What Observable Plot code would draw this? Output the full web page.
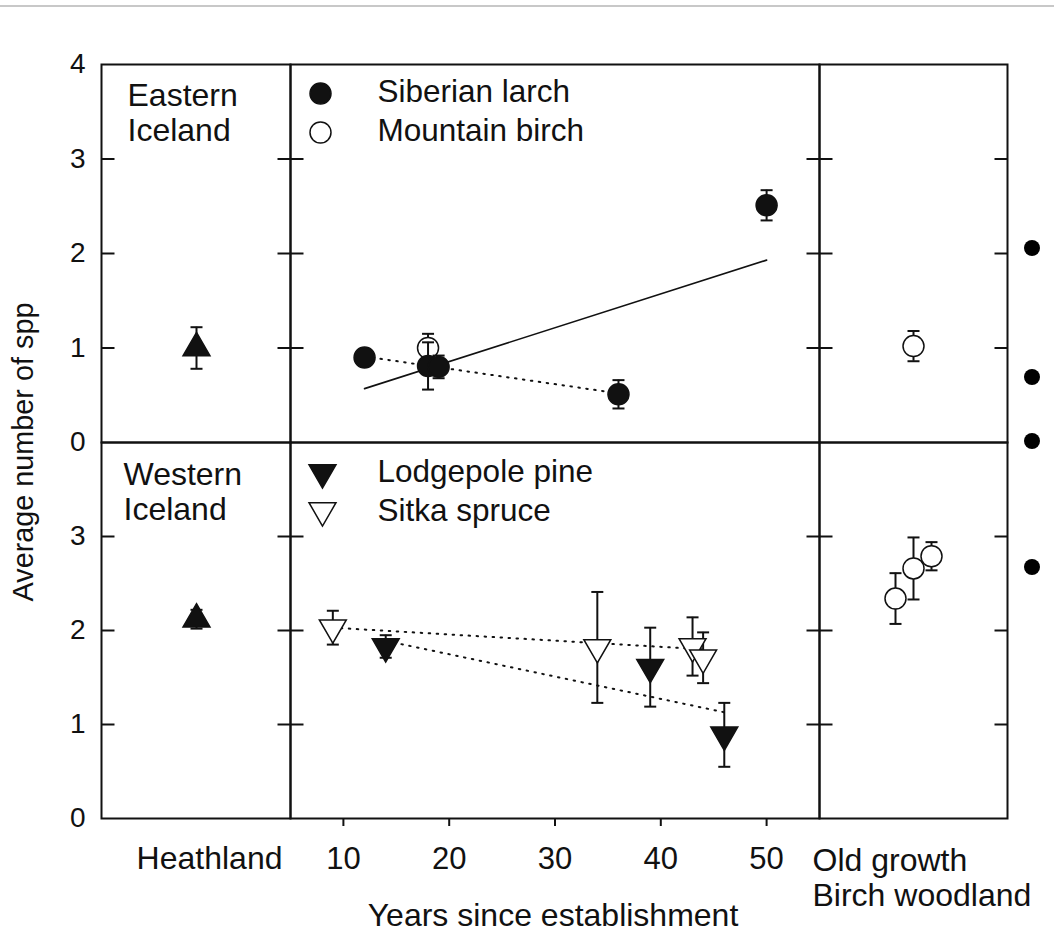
<!DOCTYPE html>
<html>
<head>
<meta charset="utf-8">
<script src="https://cdn.jsdelivr.net/npm/d3@7"></script>
<script src="https://cdn.jsdelivr.net/npm/@observablehq/plot@0.6"></script>
<style>
  html, body { margin: 0; padding: 0; background: #fff; }
  #wrap { position: relative; width: 1054px; height: 933px; overflow: hidden; background: #fff;
          font-family: "Liberation Sans", Arial, sans-serif; color: #111; }
  .panel { position: absolute; }
  .panel svg { overflow: visible; display: block; }
  .topline { position: absolute; left: 0; top: 5px; width: 1054px; height: 2px; background: #c8c8c8; }
  .bullet { position: absolute; width: 16px; height: 16px; border-radius: 50%; background: #000; }
  .ytitle { position: absolute; left: 23px; top: 452px; transform: translate(-50%, -50%) rotate(-90deg);
            white-space: nowrap; font-size: 28.8px; line-height: 1; }
  .xtitle { position: absolute; left: 553px; top: 899px; transform: translateX(-50%);
            white-space: nowrap; font-size: 32px; line-height: 1; }
</style>
</head>
<body>
<div id="wrap">
  <div class="topline"></div>
  <div class="ytitle">Average number of spp</div>
  <div class="xtitle">Years since establishment</div>
</div>
<script>
// ---------------- data ----------------
const regionLabels = ["Eastern\nIceland", "Western\nIceland"];
const topLegend = ["Siberian larch", "Mountain birch"];
const bottomLegend = ["Lodgepole pine", "Sitka spruce"];
const heathlandLabel = ["Heathland"];
const oldGrowthLabel = ["Old growth\nBirch woodland"];

const yLabelsTop = [0, 1, 2, 3, 4];
const yLabelsBottom = [0, 1, 2, 3];
const frameTicks = [1, 2, 3];
const yearTicks = [10, 20, 30, 40, 50];

// Heathland (reference)
const heathSites = ["Heathland"];
const heathEastMean = [1.00], heathEastSE = [0.22];
const heathWestMean = [2.12], heathWestSE = [0.10];

// Eastern Iceland plantations
const larchYears = [12, 18, 19, 36, 50];
const larchMean  = [0.90, 0.81, 0.80, 0.51, 2.51];
const larchSE    = [0.05, 0.25, 0.12, 0.15, 0.16];
const birchYears = [18];
const birchMean  = [1.00];
const birchSE    = [0.15];
const larchFitYears = [12, 50],  larchFitValues = [0.57, 1.93];     // solid regression line
const larchTrendYears = [12, 36], larchTrendValues = [0.91, 0.52];  // dotted line

// Western Iceland plantations
const pineYears   = [14, 39, 46];
const pineMean    = [1.83, 1.61, 0.89];
const pineSE      = [0.12, 0.42, 0.34];
const spruceYears = [9, 34, 43, 44];
const spruceMean  = [2.03, 1.82, 1.83, 1.71];
const spruceSE    = [0.18, 0.59, 0.31, 0.27];
const pineTrendYears = [14, 46],  pineTrendValues = [1.89, 1.13];
const spruceTrendYears = [9, 44], spruceTrendValues = [2.03, 1.80];

// Old growth birch woodland
const ogEastSites = ["OG"], ogEastMean = [1.02], ogEastSE = [0.16];
const ogWestSites = ["OG1", "OG2", "OG3"], ogWestMean = [2.34, 2.66, 2.79], ogWestSE = [0.27, 0.33, 0.15];

// ---------------- helpers ----------------
const INK = "#111";
const FONT = "'Liberation Sans', Arial, sans-serif";
const rows = (xs, ms, ses) => xs.map((x, i) => ({x, m: ms[i], lo: ms[i] - ses[i], hi: ms[i] + ses[i]}));
const line = (xs, ys) => xs.map((x, i) => ({x, y: ys[i]}));

const tickRight = {draw(c) { c.moveTo(0, 0); c.lineTo(13, 0); }};
const tickLeft  = {draw(c) { c.moveTo(-13, 0); c.lineTo(0, 0); }};
const tickCross = {draw(c) { c.moveTo(-13, 0); c.lineTo(13, 0); }};
const cap       = {draw(c) { c.moveTo(-6, 0); c.lineTo(6, 0); }};

const edgeTicks = (anchor, sym) => Plot.dot(frameTicks, {y: d => d, frameAnchor: anchor, symbol: sym,
  fill: "none", stroke: INK, strokeWidth: 2});

function errorBars(data) {
  return [
    Plot.ruleX(data, {x: "x", y1: "lo", y2: "hi", stroke: INK, strokeWidth: 2}),
    Plot.dot(data, {x: "x", y: "lo", symbol: cap, fill: "none", stroke: INK, strokeWidth: 2}),
    Plot.dot(data, {x: "x", y: "hi", symbol: cap, fill: "none", stroke: INK, strokeWidth: 2})
  ];
}
const circles = (data, filled) => Plot.dot(data, {x: "x", y: "m", r: 10.5, symbol: "circle",
  fill: filled ? INK : "#fff", stroke: INK, strokeWidth: 1.5});
const triangles = (data, filled, down) => Plot.dot(data, {x: "x", y: "m", r: 10, symbol: "triangle",
  rotate: down ? 180 : 0, fill: filled ? INK : "#fff", stroke: INK, strokeWidth: 1.5});

const wrap = document.getElementById("wrap");
function panel({left, top, width, height, x, yAxis, marks}) {
  const {keepAxis, ...xs} = x;
  const svg = Plot.plot({
    width, height, margin: 0,
    x: {...xs, label: null, ...(keepAxis ? {} : {axis: null})},
    y: {domain: [0, 4], label: null, ...(yAxis ? {} : {axis: null})},
    style: {overflow: "visible", background: "transparent", fontFamily: FONT, color: INK},
    marks
  });
  const div = document.createElement("div");
  div.className = "panel";
  div.style.left = left + "px";
  div.style.top = top + "px";
  div.appendChild(svg);
  wrap.appendChild(div);
}

// geometry of the frame grid
const X0 = 101, X1 = 290, X2 = 819, X3 = 1007;
const Y0 = 64, Y1 = 442, Y2 = 818;
const frame = Plot.frame({stroke: INK, strokeWidth: 2});
const intFmt = d3.format("d");

// ---------- Eastern Iceland ----------
panel({left: X0, top: Y0, width: X1 - X0, height: Y1 - Y0,
  x: {type: "point", domain: heathSites}, yAxis: true,
  marks: [
    frame,
    Plot.axisY({anchor: "left", ticks: yLabelsTop, tickFormat: intFmt, label: null,
      tickSize: 0, tickPadding: 16, fontSize: 28}),
    edgeTicks("left", tickRight), edgeTicks("right", tickCross),
    Plot.text([regionLabels[0]], {text: d => d, frameAnchor: "top-left", dx: 26, dy: 16,
      textAnchor: "start", lineAnchor: "top", lineHeight: 1.1, fontSize: 32, fill: INK}),
    ...errorBars(rows(heathSites, heathEastMean, heathEastSE)),
    triangles(rows(heathSites, heathEastMean, heathEastSE), true, false)
  ]});

panel({left: X1, top: Y0, width: X2 - X1, height: Y1 - Y0,
  x: {domain: [5, 55]},
  marks: [
    frame,
    Plot.line(line(larchFitYears, larchFitValues), {x: "x", y: "y", stroke: INK, strokeWidth: 1.6}),
    Plot.line(line(larchTrendYears, larchTrendValues), {x: "x", y: "y", stroke: INK, strokeWidth: 2,
      strokeDasharray: "1.5,6.5"}),
    ...errorBars(rows(birchYears, birchMean, birchSE)),
    circles(rows(birchYears, birchMean, birchSE), false),
    ...errorBars(rows(larchYears, larchMean, larchSE)),
    circles(rows(larchYears, larchMean, larchSE), true),
    Plot.dot([0], {frameAnchor: "top-left", dx: 30, dy: 29, r: 10.5, fill: INK, stroke: INK, strokeWidth: 1.5}),
    Plot.dot([0], {frameAnchor: "top-left", dx: 30, dy: 68, r: 10.5, fill: "#fff", stroke: INK, strokeWidth: 1.5}),
    Plot.text([topLegend.join("\n")], {text: d => d, frameAnchor: "top-left", dx: 87, dy: 10,
      textAnchor: "start", lineAnchor: "top", lineHeight: 1.24, fontSize: 31.5, fill: INK})
  ]});

panel({left: X2, top: Y0, width: X3 - X2, height: Y1 - Y0,
  x: {type: "point", domain: ogEastSites},
  marks: [
    frame,
    edgeTicks("left", tickCross), edgeTicks("right", tickLeft),
    ...errorBars(rows(ogEastSites, ogEastMean, ogEastSE)),
    circles(rows(ogEastSites, ogEastMean, ogEastSE), false)
  ]});

// ---------- Western Iceland ----------
panel({left: X0, top: Y1, width: X1 - X0, height: Y2 - Y1,
  x: {type: "point", domain: heathSites}, yAxis: true,
  marks: [
    frame,
    Plot.axisY({anchor: "left", ticks: yLabelsBottom, tickFormat: intFmt, label: null,
      tickSize: 0, tickPadding: 16, fontSize: 28}),
    edgeTicks("left", tickRight), edgeTicks("right", tickCross),
    Plot.text([regionLabels[1]], {text: d => d, frameAnchor: "top-left", dx: 22, dy: 17,
      textAnchor: "start", lineAnchor: "top", lineHeight: 1.1, fontSize: 32, fill: INK}),
    ...errorBars(rows(heathSites, heathWestMean, heathWestSE)),
    triangles(rows(heathSites, heathWestMean, heathWestSE), true, false),
    Plot.text(heathlandLabel, {text: d => d, frameAnchor: "bottom-right", dx: -8, dy: 28,
      textAnchor: "end", lineAnchor: "top", fontSize: 32, fill: INK})
  ]});

panel({left: X1, top: Y1, width: X2 - X1, height: Y2 - Y1,
  x: {domain: [5, 55], keepAxis: true},
  marks: [
    frame,
    Plot.axisX({anchor: "bottom", ticks: yearTicks, label: null, tickSize: 8, tickPadding: 20,
      fontSize: 31, strokeWidth: 2}),
    Plot.line(line(pineTrendYears, pineTrendValues), {x: "x", y: "y", stroke: INK, strokeWidth: 2,
      strokeDasharray: "1.5,6.5"}),
    Plot.line(line(spruceTrendYears, spruceTrendValues), {x: "x", y: "y", stroke: INK, strokeWidth: 2,
      strokeDasharray: "1.5,6.5"}),
    ...errorBars(rows(spruceYears, spruceMean, spruceSE)),
    triangles(rows(spruceYears, spruceMean, spruceSE), false, true),
    ...errorBars(rows(pineYears, pineMean, pineSE)),
    triangles(rows(pineYears, pineMean, pineSE), true, true),
    Plot.dot([0], {frameAnchor: "top-left", dx: 32, dy: 30, r: 10, symbol: "triangle", rotate: 180,
      fill: INK, stroke: INK, strokeWidth: 1.5}),
    Plot.dot([0], {frameAnchor: "top-left", dx: 32, dy: 68, r: 10, symbol: "triangle", rotate: 180,
      fill: "#fff", stroke: INK, strokeWidth: 1.5}),
    Plot.text([bottomLegend.join("\n")], {text: d => d, frameAnchor: "top-left", dx: 87, dy: 12,
      textAnchor: "start", lineAnchor: "top", lineHeight: 1.24, fontSize: 31.5, fill: INK})
  ]});

panel({left: X2, top: Y1, width: X3 - X2, height: Y2 - Y1,
  x: {type: "point", domain: ogWestSites, padding: 3.95},
  marks: [
    frame,
    edgeTicks("left", tickCross), edgeTicks("right", tickLeft),
    ...errorBars(rows(ogWestSites, ogWestMean, ogWestSE)),
    circles(rows(ogWestSites, ogWestMean, ogWestSE), false),
    Plot.text(oldGrowthLabel, {text: d => d, frameAnchor: "bottom-left", dx: -7, dy: 27,
      textAnchor: "start", lineAnchor: "top", lineHeight: 1.1, fontSize: 32, fill: INK})
  ]});

// slide bullets visible at the right edge of the reference
[240, 369, 433, 559].forEach(t => {
  const b = document.createElement("div");
  b.className = "bullet";
  b.style.left = "1024px";
  b.style.top = t + "px";
  wrap.appendChild(b);
});
</script>
</body>
</html>
